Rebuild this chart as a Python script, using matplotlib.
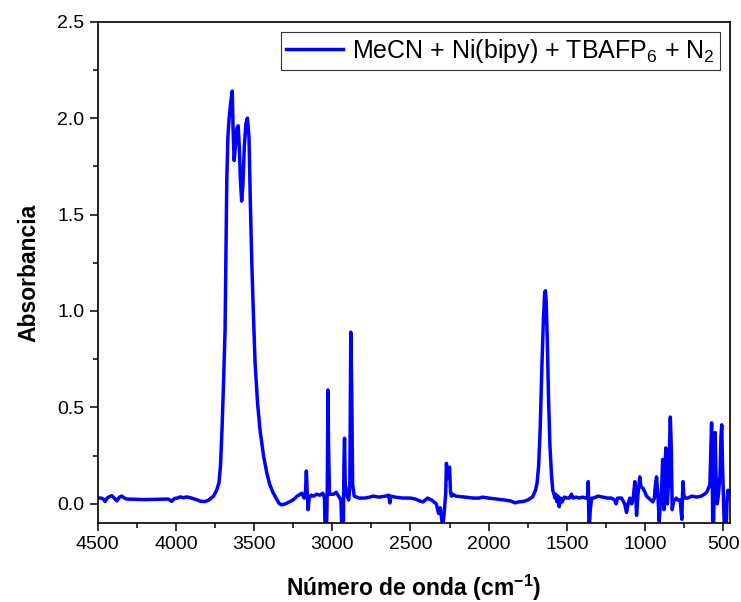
import matplotlib
matplotlib.use("Agg")
import matplotlib.pyplot as plt
from matplotlib.ticker import MultipleLocator

plt.rcParams['font.family'] = ['Liberation Sans', 'DejaVu Sans']
plt.rcParams['mathtext.fontset'] = 'custom'
plt.rcParams['mathtext.rm'] = 'Liberation Sans'
plt.rcParams['mathtext.it'] = 'Liberation Sans:italic'
plt.rcParams['mathtext.bf'] = 'Liberation Sans:bold'

# wavenumber (cm-1) and absorbance
wavenumber = [
    4500, 4480, 4465, 4453, 4440, 4420, 4410, 4395, 4378, 4362, 4347, 4330, 4315,
    4280, 4200, 4100, 4050, 4027, 4010, 3990, 3974, 3950, 3931, 3900, 3870, 3840,
    3815, 3790, 3760, 3740, 3725, 3715, 3705, 3695, 3686, 3680, 3675, 3668, 3660,
    3650, 3640, 3635, 3628, 3620, 3610, 3602, 3595, 3588, 3580, 3572, 3563, 3553,
    3543, 3533, 3524, 3515, 3505, 3494, 3478, 3462, 3440, 3419, 3400, 3380, 3360,
    3340, 3325, 3300, 3270, 3249, 3225, 3205, 3195, 3180, 3172, 3166, 3160, 3155,
    3148, 3135, 3120, 3100, 3080, 3060, 3050, 3045, 3038, 3032, 3028, 3024, 3018,
    3000, 2990, 2975, 2960, 2945, 2937, 2930, 2926, 2922, 2917, 2905, 2895, 2888,
    2882, 2876, 2870, 2860, 2830, 2790, 2760, 2740, 2700, 2660, 2640, 2632, 2625,
    2600, 2550, 2500, 2470, 2440, 2420, 2405, 2390, 2380, 2365, 2350, 2335, 2320,
    2310, 2300, 2294, 2285, 2275, 2270, 2264, 2257, 2250, 2244, 2238, 2230, 2210,
    2150, 2100, 2060, 2040, 2000, 1950, 1900, 1860, 1830, 1810, 1780, 1750, 1720,
    1700, 1690, 1680, 1670, 1660, 1650, 1642, 1637, 1632, 1625, 1617, 1608, 1598,
    1590, 1582, 1576, 1570, 1563, 1556, 1549, 1540, 1530, 1515, 1500, 1485, 1470,
    1460, 1440, 1420, 1400, 1380, 1368, 1363, 1358, 1350, 1341, 1330, 1300, 1270,
    1240, 1215, 1195, 1185, 1175, 1150, 1130, 1118, 1108, 1097, 1085, 1075, 1065,
    1058, 1054, 1045, 1038, 1033, 1026, 1012, 1000, 990, 970, 950, 940, 933, 926,
    918, 909, 902, 895, 887, 882, 879, 873, 867, 862, 857, 850, 843, 838, 832, 826,
    818, 810, 800, 790, 775, 768, 764, 760, 757, 752, 745, 728, 700, 670, 640, 620,
    605, 595, 585, 578, 574, 570, 566, 561, 556, 551, 546, 538, 530, 520, 514, 509,
    504, 497, 490, 483, 476, 470, 464, 457,
]
absorbance = [
    0.030, 0.030, 0.025, 0.012, 0.030, 0.040, 0.042, 0.030, 0.015, 0.035, 0.040, 0.030, 0.025,
    0.024, 0.022, 0.024, 0.025, 0.013, 0.028, 0.030, 0.036, 0.032, 0.036, 0.030, 0.022, 0.013,
    0.012, 0.020, 0.040, 0.070, 0.110, 0.200, 0.400, 0.650, 0.900, 1.300, 1.680, 1.900, 2.000,
    2.080, 2.140, 1.950, 1.780, 1.850, 1.950, 1.960, 1.850, 1.680, 1.570, 1.650, 1.850, 1.970,
    2.000, 1.900, 1.550, 1.250, 0.990, 0.730, 0.520, 0.380, 0.250, 0.160, 0.100, 0.060, 0.030,
    0.002, -0.005, 0.000, 0.012, 0.022, 0.040, 0.050, 0.055, 0.030, 0.060, 0.170, 0.050, -0.030,
    0.030, 0.045, 0.040, 0.050, 0.045, 0.055, 0.030, -0.200, -0.200, 0.100, 0.590, 0.300, 0.050,
    0.050, 0.050, 0.060, 0.040, 0.020, -0.200, -0.200, 0.200, 0.340, 0.100, 0.040, 0.020, 0.100,
    0.890, 0.600, 0.100, 0.040, 0.030, 0.030, 0.035, 0.040, 0.035, 0.040, 0.045, 0.005, 0.040,
    0.035, 0.030, 0.030, 0.025, 0.015, 0.010, 0.020, 0.030, 0.025, 0.020, 0.010, 0.000, -0.050,
    -0.020, -0.080, -0.120, -0.050, 0.050, 0.210, 0.130, 0.170, 0.190, 0.060, 0.040, 0.050, 0.040,
    0.035, 0.030, 0.030, 0.035, 0.030, 0.025, 0.020, 0.015, 0.005, 0.010, 0.012, 0.020, 0.035,
    0.070, 0.110, 0.200, 0.400, 0.700, 0.950, 1.090, 1.105, 1.050, 0.850, 0.550, 0.300, 0.150,
    0.070, 0.050, 0.030, 0.050, 0.010, 0.040, -0.015, 0.030, 0.010, 0.035, 0.030, 0.030, 0.050,
    0.030, 0.035, 0.030, 0.035, 0.030, 0.030, 0.115, -0.150, -0.030, 0.030, 0.030, 0.040, 0.035,
    0.030, 0.030, 0.020, 0.000, 0.030, 0.030, 0.000, -0.045, 0.000, 0.030, 0.000, 0.030, 0.115,
    0.030, -0.060, 0.050, 0.100, 0.140, 0.090, 0.080, 0.060, 0.040, 0.025, 0.010, 0.030, 0.100, 0.140,
    0.050, -0.090, 0.000, 0.050, 0.230, 0.100, -0.030, 0.150, 0.290, 0.100, 0.000, 0.100, 0.300, 0.450, 0.300, -0.030,
    0.010, 0.020, 0.030, 0.020, 0.020, -0.050, -0.080, 0.050, 0.115, 0.050, 0.030, 0.030, 0.040, 0.035, 0.040, 0.050,
    0.060, 0.080, 0.100, 0.300, 0.420, 0.200, -0.200, -0.100, 0.200, 0.370, 0.150, 0.000, 0.050, 0.150, 0.350, 0.410,
    0.200, 0.000, -0.200, -0.200, 0.000, 0.070, 0.070, 0.060,
]
series_label = r'MeCN + Ni(bipy) + TBAFP$_6$ + N$_2$'

fig = plt.figure(figsize=(7.41, 6.02), dpi=100)
ax = fig.add_axes([0.132, 0.131, 0.853, 0.833])

ax.plot(wavenumber, absorbance, color='#0000ff', lw=2.5, label=series_label)

ax.set_xlim(4500, 457)
ax.set_ylim(-0.1, 2.5)
ax.xaxis.set_major_locator(MultipleLocator(500))
ax.xaxis.set_minor_locator(MultipleLocator(250))
ax.yaxis.set_major_locator(MultipleLocator(0.5))
ax.yaxis.set_minor_locator(MultipleLocator(0.25))
ax.yaxis.set_major_formatter(plt.FormatStrFormatter('%.1f'))
ax.tick_params(which='major', direction='out', length=6, width=1.1, labelsize=14)
ax.tick_params(which='minor', direction='out', length=3.5, width=1.1)
for s in ax.spines.values():
    s.set_linewidth(1.2)

ax.set_xlabel(r'Número de onda (cm$^{\mathbf{-1}}$)', fontsize=16.5, fontweight='bold', labelpad=14)
ax.set_ylabel('Absorbancia', fontsize=16.5, fontweight='bold', labelpad=12)

leg = ax.legend(loc='upper right', fontsize=18, frameon=True, fancybox=False,
                edgecolor='black', handlelength=2.3, borderaxespad=0.4,
                borderpad=0.2, handletextpad=0.35)
leg.get_frame().set_linewidth(0.8)

fig.savefig('out.png', dpi=100)
